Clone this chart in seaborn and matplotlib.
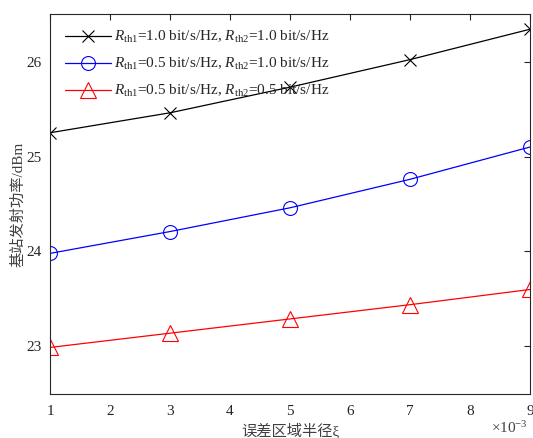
import matplotlib
matplotlib.use("Agg")
import matplotlib.pyplot as plt
import seaborn as sns
import pandas as pd

# data
xi = [1, 3, 5, 7, 9]  # ×10^-3
p_a = [25.25, 25.46, 25.73, 26.02, 26.34]
p_b = [23.98, 24.21, 24.46, 24.76, 25.10]
p_c = [22.99, 23.14, 23.29, 23.44, 23.60]
labels = [r"$R_{\mathrm{th1}}$=1.0 bit/s/Hz, $R_{\mathrm{th2}}$=1.0 bit/s/Hz",
          r"$R_{\mathrm{th1}}$=0.5 bit/s/Hz, $R_{\mathrm{th2}}$=1.0 bit/s/Hz",
          r"$R_{\mathrm{th1}}$=0.5 bit/s/Hz, $R_{\mathrm{th2}}$=0.5 bit/s/Hz"]
colors = ["#000000", "#0000FF", "#FF0000"]
markers = ["x", "o", "^"]
msizes = [8, 10, 12]

sns.set_style("white")
plt.rcParams["font.family"] = ["Liberation Serif", "Noto Sans CJK SC"]
plt.rcParams["mathtext.fontset"] = "custom"
plt.rcParams["mathtext.rm"] = "Liberation Serif"
plt.rcParams["mathtext.it"] = "Liberation Serif:italic"

fig = plt.figure(figsize=(5.33, 4.38), dpi=100)
ax = fig.add_axes([0.0938, 0.1005, 0.9006, 0.8675])

for ys, lab, c, m, ms in zip([p_a, p_b, p_c], labels, colors, markers, msizes):
    df = pd.DataFrame({"x": xi, "y": ys})
    sns.lineplot(data=df, x="x", y="y", ax=ax, color=c, marker=m, markersize=ms,
                 markerfacecolor="none", markeredgecolor=c, markeredgewidth=0.8,
                 linewidth=0.9, label=lab)

ax.set_xlim(1, 9)
ax.set_ylim(22.5, 26.5)
ax.set_xticks(range(1, 10))
ax.set_yticks([23, 24, 25, 26])
ax.tick_params(direction="in", top=True, right=True, labelsize=11, length=4,
               width=0.8, colors="#262626")
ax.tick_params(axis="x", pad=8)
ax.tick_params(axis="y", pad=6)
for s in ax.spines.values():
    s.set_color("#262626")
    s.set_linewidth(0.8)
ax.set_xlabel("误差区域半径ξ", fontsize=11, color="#404040", labelpad=3)
ax.set_ylabel("基站发射功率/dBm", fontsize=11, color="#404040", labelpad=1)
ax.text(0.995, -0.07, r"$\times10^{-3}$", transform=ax.transAxes, ha="right",
        va="top", fontsize=11, color="#404040")

leg = ax.legend(loc="upper left", frameon=False, fontsize=11, handlelength=3.0,
                labelspacing=0.7, borderaxespad=0.6, handletextpad=0.2)

fig.savefig("out.png", dpi=100)
